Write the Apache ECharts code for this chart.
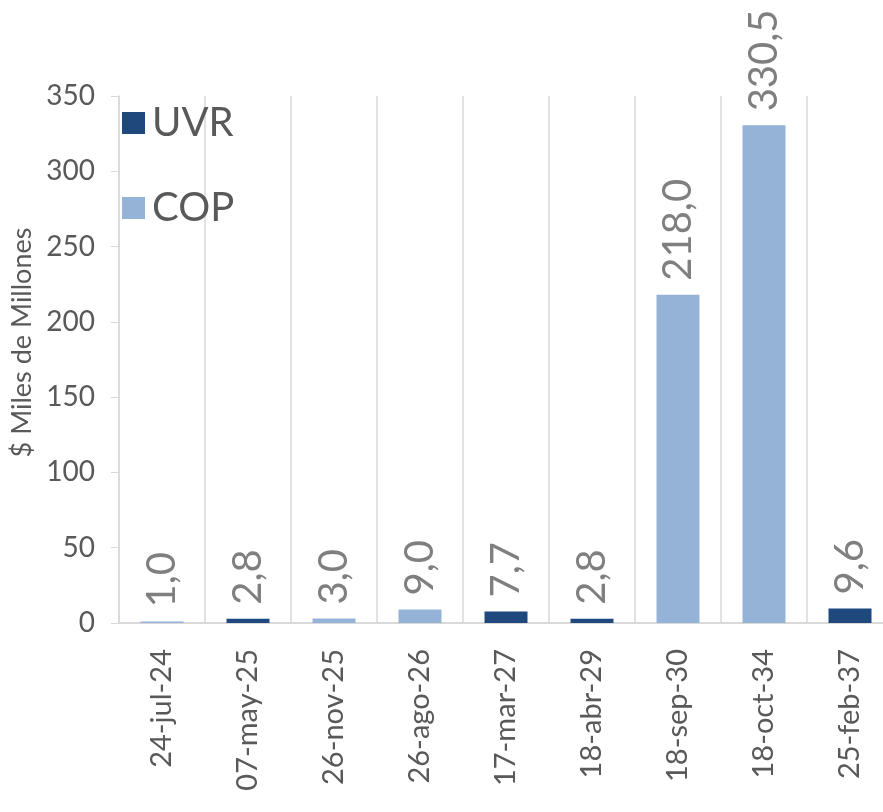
<!DOCTYPE html>
<html>
<head>
<meta charset="utf-8">
<script src="https://cdn.jsdelivr.net/npm/echarts@6/dist/echarts.min.js"></script>
<style>
html, body { margin: 0; padding: 0; background: #fff; }
#chart { width: 883px; height: 812px; }
</style>
</head>
<body>
<div id="chart"></div>
<script>
// fechas de vencimiento
var categories = ['24-jul-24', '07-may-25', '26-nov-25', '26-ago-26', '17-mar-27',
	'18-abr-29', '18-sep-30', '18-oct-34', '25-feb-37'];
var uvrValues = [null, 2.8, null, null, 7.7, 2.8, null, null, 9.6];
var copValues = [1.0, null, 3.0, 9.0, null, null, 218.0, 330.5, null];
var yTicks = [0, 50, 100, 150, 200, 250, 300, 350];

var fontFam = 'Lato, "Open Sans", sans-serif';
var chart = echarts.init(document.getElementById('chart'));

var labelOpt = {
	show : true,
	position : 'top',
	rotate : 90,
	align : 'left',
	verticalAlign : 'middle',
	distance : 14,
	fontSize : 40,
	fontFamily : fontFam,
	color : '#7f7f7f',
	formatter : function(p) {
		return p.value == null ? '' : p.value.toFixed(1).replace('.', ',');
	}
};

var option = {
	animation : false,
	textStyle : { fontFamily : fontFam },
	legend : {
		orient : 'vertical',
		left : 122,
		top : 103,
		padding : 0,
		icon : 'rect',
		itemWidth : 23,
		itemHeight : 22,
		itemGap : 45,
		textStyle : { fontSize : 40, color : '#595959', fontFamily : fontFam, padding : [0, 0, 0, 2] },
		data : ['UVR', 'COP']
	},
	grid : {
		left : 119,
		right : -10,
		top : 96,
		bottom : 189,
		outerBoundsMode : 'none'
	},
	xAxis : {
		type : 'category',
		data : categories,
		axisLine : { lineStyle : { color : '#d9d9d9', width : 2 } },
		axisTick : { show : false },
		splitLine : { show : true, lineStyle : { color : '#d9d9d9', width : 1.5 } },
		axisLabel : {
			rotate : 90,
			interval : 0,
			margin : 26,
			fontSize : 29,
			color : '#595959',
			fontFamily : fontFam
		}
	},
	yAxis : {
		type : 'value',
		min : yTicks[0],
		max : yTicks[yTicks.length - 1],
		interval : 50,
		name : '$ Miles de Millones',
		nameLocation : 'middle',
		nameGap : 78,
		nameTextStyle : { fontSize : 27, color : '#595959', fontFamily : fontFam, padding : [0, 0, 0, 34] },
		axisLine : { show : true, lineStyle : { color : '#d9d9d9', width : 1.5 } },
		axisTick : { show : true, length : 8, lineStyle : { color : '#d9d9d9' } },
		splitLine : { show : false },
		axisLabel : { fontSize : 28, color : '#595959', margin : 24, fontFamily : fontFam }
	},
	series : [ {
		name : 'UVR',
		type : 'bar',
		stack : 'total',
		barWidth : '50%',
		itemStyle : { color : '#1f497d' },
		label : labelOpt,
		data : uvrValues
	}, {
		name : 'COP',
		type : 'bar',
		stack : 'total',
		barWidth : '50%',
		itemStyle : { color : '#95b3d7' },
		label : labelOpt,
		data : copValues
	} ]
};
chart.setOption(option);
</script>
</body>
</html>
